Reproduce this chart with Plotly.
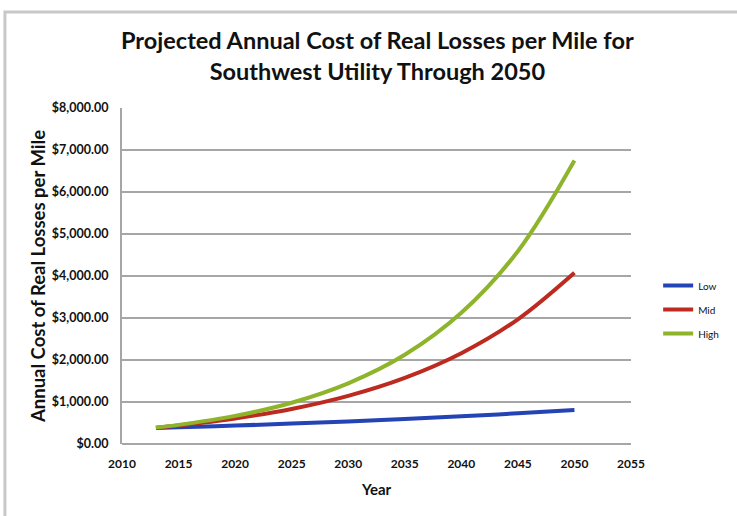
import plotly.graph_objects as go

# Projected annual cost of real losses per mile ($), by scenario
years = [2013, 2015, 2020, 2025, 2030, 2035, 2040, 2045, 2050]
low = [380, 396, 438, 486, 538, 596, 660, 731, 810]
mid = [390, 443, 608, 835, 1147, 1575, 2162, 2970, 4078]
high = [390, 455, 669, 983, 1445, 2124, 3123, 4591, 6750]

series = [("Low", low, "#2443b4"), ("Mid", mid, "#bd2a20"), ("High", high, "#8db42a")]

x_ticks = [2010, 2015, 2020, 2025, 2030, 2035, 2040, 2045, 2050, 2055]
y_ticks = [0, 1000, 2000, 3000, 4000, 5000, 6000, 7000, 8000]
y_tick_labels = ["$0.00", "$1,000.00", "$2,000.00", "$3,000.00", "$4,000.00",
                 "$5,000.00", "$6,000.00", "$7,000.00", "$8,000.00"]

FONT = "Lato"
INK = "#111"

fig = go.Figure()
for name, vals, color in series:
    fig.add_trace(go.Scatter(
        x=years, y=vals, name=name, mode="lines", legendgroup=name,
        line=dict(color=color, width=4, shape="spline"),
    ))

# plot area spans 122..631 px horizontally and 108..444 px vertically
fig.update_layout(
    width=737, height=516,
    margin=dict(l=122, r=106, t=108, b=72, autoexpand=False),
    paper_bgcolor="white", plot_bgcolor="white",
    font=dict(family=FONT, color=INK),
    title=dict(
        text="<b>Projected Annual Cost of Real Losses per Mile for<br>Southwest Utility Through 2050</b>",
        x=0.512, xanchor="center", y=0.905, yanchor="top",
        font=dict(family=FONT, size=23.5, color=INK),
    ),
    showlegend=True,
    legend=dict(
        xref="container", yref="container",
        x=0.893, xanchor="left", y=0.40, yanchor="middle",
        font=dict(family=FONT, size=10, color=INK),
        itemwidth=30, tracegroupgap=5,
        bgcolor="rgba(0,0,0,0)",
    ),
    shapes=[dict(
        type="rect", xref="paper", yref="paper",
        x0=-0.230, x1=1.25, y0=-0.30, y1=1.286,
        line=dict(color="#c8c8c8", width=3),
        fillcolor="rgba(0,0,0,0)", layer="below",
    )],
)

fig.update_xaxes(
    range=[2010, 2055], tickvals=x_ticks,
    showgrid=False, zeroline=False,
    showline=False, ticks="", ticklabelstandoff=11,
    tickfont=dict(family=FONT, size=12, color=INK, weight=700),
    title=dict(text="<b>Year</b>", font=dict(family=FONT, size=15, color=INK), standoff=14),
)
fig.update_yaxes(
    range=[0, 8000], tickvals=y_ticks, ticktext=y_tick_labels,
    showgrid=True, gridcolor="#a6a6a6", gridwidth=2,
    zeroline=True, zerolinecolor="#a6a6a6", zerolinewidth=2,
    showline=True, linecolor="#a6a6a6", linewidth=2,
    ticks="", ticklabelstandoff=9,
    tickfont=dict(family=FONT, size=12.5, color=INK, weight=700),
    title=dict(text="<b>Annual Cost of Real Losses per Mile</b>",
               font=dict(family=FONT, size=18.5, color=INK), standoff=1),
)

fig.write_html("out.html")
